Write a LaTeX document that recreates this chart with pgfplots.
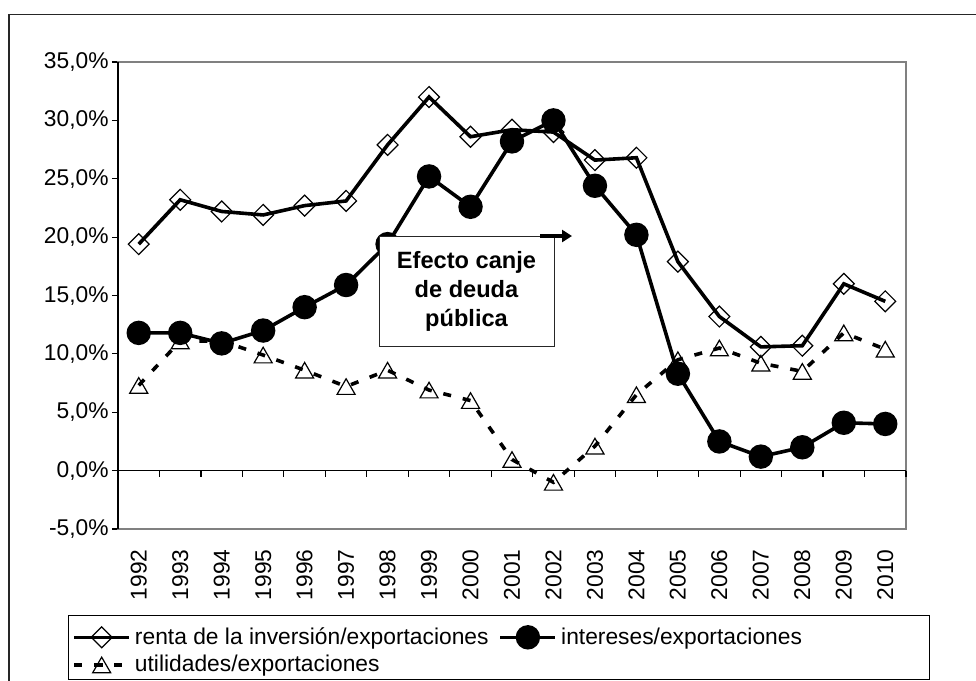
\documentclass[border=0pt]{standalone}
\usepackage{pgfplots}
\pgfplotsset{compat=1.18}
\usepackage{pgfplotstable}
\usepackage{fontspec}
\setmainfont{Liberation Sans}
\usetikzlibrary{arrows.meta}
\pgfplotstableread{
x renta inter util
0 19.4 11.8 7.3
1 23.2 11.8 11.1
2 22.2 10.9 11.1
3 21.9 12.0 9.9
4 22.7 14.0 8.6
5 23.1 15.9 7.2
6 27.9 19.4 8.6
7 32.0 25.2 6.9
8 28.6 22.6 6.0
9 29.2 28.2 0.95
10 29.0 30.0 -1.0
11 26.6 24.4 2.1
12 26.8 20.2 6.5
13 17.9 8.3 9.5
14 13.2 2.5 10.5
15 10.6 1.2 9.2
16 10.7 2.0 8.5
17 16.0 4.1 11.8
18 14.5 4.0 10.4
}\datatable
\begin{document}
\begin{tikzpicture}
\useasboundingbox (0,0) rectangle (488pt,-340.5pt);
\draw[line width=0.9pt,black!85] (4.5pt,-7.2pt) rectangle (495pt,-350pt);
\begin{axis}[
  at={(59pt,-264.5pt)}, anchor=south west,
  scale only axis, width=394pt, height=233.5pt,
  xmin=-0.5, xmax=18.5, ymin=-5, ymax=35,
  axis line style={black!50, line width=0.8pt},
  xtick={0,...,18},
  xticklabels={1992,1993,1994,1995,1996,1997,1998,1999,2000,2001,2002,2003,2004,2005,2006,2007,2008,2009,2010},
  x tick style={draw=none},
  xticklabel style={yshift=-7pt, rotate=90, anchor=east, inner sep=0pt},
  ytick={-5,0,5,10,15,20,25,30,35},
  ytick pos=left, tick align=outside,
  major tick length=3pt,
  y tick style={black, line width=0.6pt},
  yticklabel style={inner sep=1.5pt},
  yticklabel={\pgfmathprintnumber[fixed,fixed zerofill,precision=1,use comma]{\tick}\%},
  /pgf/number format/assume math mode=true,
  tick label style={font=\fontsize{11.4}{13}\selectfont},
  legend columns=2,
  legend cell align=left,
  legend style={at={(-0.0584,-0.2013)}, anchor=north west, draw=none, fill=none,
    inner sep=0pt, font=\fontsize{11.4}{13}\selectfont,
    /tikz/every odd column/.append style={column sep=0pt},
    /tikz/every even column/.append style={column sep=3pt},
    row sep=0pt},
  legend image code/.code={\draw[mark repeat=2,mark phase=2,#1, line width=1.8pt] plot coordinates {(0pt,0pt)(13.75pt,0pt)(27.5pt,0pt)};},
  clip=false,
]
\draw[black, line width=0.7pt] (rel axis cs:0,0) -- (rel axis cs:0,1);
\draw[black, line width=0.7pt] (axis cs:-0.5,0) -- (axis cs:18.5,0);
\pgfplotsinvokeforeach{-0.5,0.5,1.5,2.5,3.5,4.5,5.5,6.5,7.5,8.5,9.5,10.5,11.5,12.5,13.5,14.5,15.5,16.5,17.5,18.5}{
  \draw[black, line width=0.6pt] (axis cs:#1,0) -- ([yshift=-3pt]axis cs:#1,0);
}
\addplot[black, line width=1.8pt, mark=square, mark size=3.7pt,
  mark options={rotate=45, fill=white, solid, line width=0.6pt}]
  table[x=x,y=renta]{\datatable};
\addlegendentry{renta de la inversión/exportaciones}
\addplot[black, line width=1.8pt, mark=*, mark size=5.2pt,
  mark options={fill=black, solid}]
  table[x=x,y=inter]{\datatable};
\addlegendentry{intereses/exportaciones}
\addplot[black, line width=1.8pt, dash pattern=on 4pt off 6pt, mark=triangle, mark size=5.2pt,
  mark options={fill=white, solid, line width=0.6pt, yshift=-1.3pt}]
  table[x=x,y=util]{\datatable};
\addlegendentry{utilidades/exportaciones}
\end{axis}
\draw[black, line width=0.5pt] (34pt,-307.5pt) rectangle (464.5pt,-339.5pt);
\draw[black!85, line width=0.5pt, fill=white] (189.5pt,-118pt) rectangle (277pt,-173pt);
\node[align=center, font=\bfseries\fontsize{11.8}{14.5}\selectfont] at (233.25pt,-145.5pt) {Efecto canje\\de deuda\\pública};
\draw[black, line width=1.6pt, -{Triangle[length=5pt,width=6pt]}] (270pt,-118pt) -- (286pt,-118pt);
\end{tikzpicture}
\end{document}
